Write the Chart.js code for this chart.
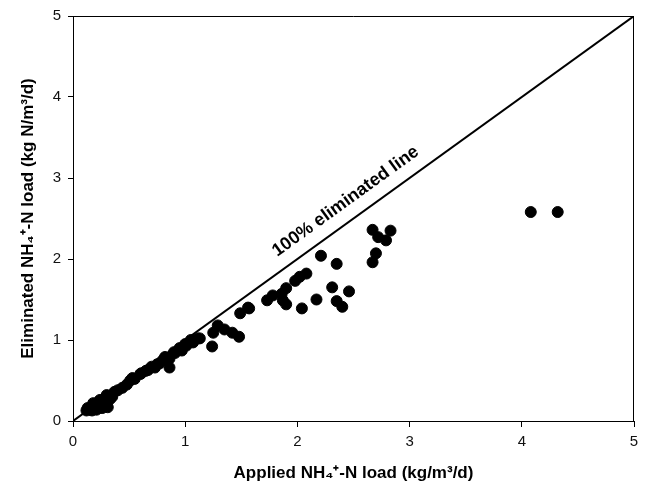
<!DOCTYPE html>
<html>
<head>
<meta charset="utf-8">
<script src="https://cdn.jsdelivr.net/npm/chart.js@4.4.1/dist/chart.umd.min.js"></script>
<style>
html,body{margin:0;padding:0;background:#fff;}
#wrap{width:658px;height:484px;}
</style>
</head>
<body>
<div id="wrap"><canvas id="c" width="658" height="484"></canvas></div>
<script>
// Applied NH4+-N load (kg/m3/d)
const appliedLoad = [
  0.13,0.18,0.21,0.24,0.24,0.30,0.31,0.37,0.44,0.51,0.53,0.61,0.67,0.73,0.77,0.82,0.86,0.86,0.91,0.97,
  1.01,1.07,1.11,0.15,0.20,0.22,0.25,0.28,0.27,0.30,0.33,0.40,0.48,0.55,0.60,0.65,0.70,0.75,0.80,0.90,
  0.95,1.00,1.05,1.13,1.24,1.25,1.29,1.35,1.42,1.48,1.49,1.56,1.57,
  1.73,1.78,1.86,1.87,1.90,1.90,1.98,2.02,2.04,2.08,2.17,2.21,2.31,2.35,2.35,2.40,2.46,
  2.67,2.72,2.79,2.83,2.70,2.67,4.08,4.32,
  0.17,0.26,0.35,0.12,0.23
];
// Eliminated NH4+-N load (kg N/m3/d)
const eliminatedLoad = [
  0.16,0.22,0.14,0.26,0.20,0.32,0.17,0.36,0.41,0.50,0.53,0.59,0.63,0.66,0.71,0.79,0.77,0.66,0.84,0.87,
  0.93,0.97,1.02,0.14,0.18,0.20,0.22,0.27,0.18,0.22,0.27,0.38,0.45,0.52,0.58,0.62,0.67,0.70,0.75,0.85,
  0.90,0.95,1.00,1.02,0.92,1.09,1.18,1.13,1.09,1.04,1.33,1.40,1.39,
  1.49,1.55,1.57,1.49,1.64,1.44,1.73,1.78,1.39,1.82,1.50,2.04,1.65,1.94,1.48,1.41,1.60,
  2.36,2.27,2.23,2.35,2.07,1.96,2.58,2.58,
  0.13,0.16,0.30,0.13,0.24
];
// 100% eliminated reference line
const lineX = [0, 5];
const lineY = [0, 5];
const xTicks = [0,1,2,3,4,5];
const yTicks = [0,1,2,3,4,5];
const lineLabel = '100% eliminated line';

const FONT = "'Liberation Sans', Arial, sans-serif";

const framePlugin = {
  id: 'frame',
  afterDatasetsDraw(chart) {
    const {ctx, chartArea:a, scales} = chart;
    ctx.save();
    ctx.strokeStyle = '#000';
    ctx.lineWidth = 1;
    ctx.beginPath();
    ctx.moveTo(a.left, a.top + 0.5);
    ctx.lineTo(a.right - 0.5, a.top + 0.5);
    ctx.lineTo(a.right - 0.5, a.bottom);
    ctx.stroke();
    // label of the reference line
    const px = scales.x.getPixelForValue(2.43);
    const py = scales.y.getPixelForValue(2.71);
    const dx = scales.x.getPixelForValue(5) - scales.x.getPixelForValue(0);
    const dy = scales.y.getPixelForValue(5) - scales.y.getPixelForValue(0);
    const ang = Math.atan2(dy, dx);
    ctx.translate(px, py);
    ctx.rotate(ang);
    ctx.font = "bold 18px " + FONT;
    ctx.fillStyle = '#000';
    ctx.textAlign = 'center';
    ctx.textBaseline = 'middle';
    ctx.fillText(lineLabel, 0, 0);
    ctx.restore();
  }
};

new Chart(document.getElementById('c'), {
  type: 'scatter',
  data: {
    datasets: [
      {
        label: 'data',
        data: appliedLoad.map((x, i) => ({x: x, y: eliminatedLoad[i]})),
        backgroundColor: '#000',
        borderColor: '#000',
        pointRadius: 5.5,
        pointHoverRadius: 5.5,
        order: 1
      },
      {
        label: 'line',
        type: 'line',
        data: lineX.map((x, i) => ({x: x, y: lineY[i]})),
        borderColor: '#000',
        borderWidth: 2,
        pointRadius: 0,
        fill: false,
        order: 2
      }
    ]
  },
  options: {
    responsive: false,
    animation: false,
    devicePixelRatio: 1,
    layout: {padding: {top: 14, right: 24, left: 0, bottom: 0}},
    plugins: {legend: {display: false}, tooltip: {enabled: false}},
    scales: {
      x: {
        type: 'linear', min: 0, max: 5,
        afterBuildTicks: s => { s.ticks = xTicks.map(v => ({value: v})); },
        afterFit: s => { s.height = 63; },
        grid: {display: true, drawOnChartArea: false, drawTicks: true, tickLength: 6, color: '#000'},
        border: {display: true, color: '#000', width: 1},
        ticks: {color: '#111', font: {family: FONT, size: 15}, padding: 6, maxRotation: 0},
        title: {display: true, text: 'Applied NH\u2084\u207A-N load (kg/m\u00B3/d)', color: '#000',
                font: {family: FONT, size: 17, weight: 'bold'}, padding: {top: 0, bottom: 0}}
      },
      y: {
        type: 'linear', min: 0, max: 5,
        afterBuildTicks: s => { s.ticks = yTicks.map(v => ({value: v})); },
        afterFit: s => { s.width = 73; },
        grid: {display: true, drawOnChartArea: false, drawTicks: true, tickLength: 5, color: '#000'},
        border: {display: true, color: '#000', width: 1},
        ticks: {color: '#111', font: {family: FONT, size: 15}, padding: 7},
        title: {display: true, text: 'Eliminated NH\u2084\u207A-N load (kg N/m\u00B3/d)', color: '#000',
                font: {family: FONT, size: 17, weight: 'bold'}, padding: {top: 18, bottom: 0}}
      }
    }
  },
  plugins: [framePlugin]
});
</script>
</body>
</html>
